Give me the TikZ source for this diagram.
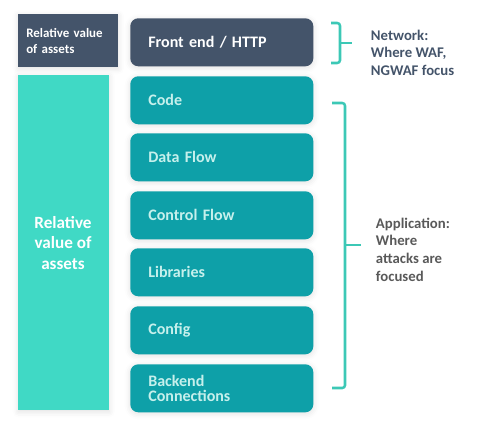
\documentclass[tikz,border=0pt]{standalone}
\usepackage{fontspec}
\setmainfont{Carlito}
\usetikzlibrary{shadows.blur}
\definecolor{slate}{HTML}{44546A}
\definecolor{deepteal}{HTML}{0EA0A8}
\definecolor{lightteal}{HTML}{40D9C5}
\definecolor{paleteal}{HTML}{C6F0EC}
\definecolor{bracecol}{HTML}{3CC8B6}
\definecolor{greytext}{HTML}{595959}
\tikzset{
  glow/.style={blur shadow={shadow xshift=0pt, shadow yshift=-1pt, shadow blur radius=4pt, shadow opacity=12}},
  layerbox/.style={glow, rounded corners=0.2cm, minimum width=4.575cm, minimum height=1.2cm,
    text width=3.675cm, inner xsep=0.45cm, inner ysep=0pt, align=left, anchor=north west,
    font=\bfseries\fontsize{11.4}{10.6}\selectfont},
  applayer/.style={layerbox, fill=deepteal, text=paleteal},
  brace/.style={draw=bracecol, line width=1.8pt, rounded corners=2pt},
  sidetext/.style={anchor=north west, align=left, font=\bfseries\fontsize{10.5}{12.5}\selectfont}
}
\begin{document}
\begin{tikzpicture}[x=0.025cm, y=-0.025cm]
  \useasboundingbox (0,0) rectangle (490,434);

  %%%%% left column %%%%%
  \node[glow, fill=slate, text=white, anchor=north west, minimum width=2.275cm, minimum height=1.325cm,
    text width=2.1cm, inner xsep=0.2cm, align=left, font=\bfseries\fontsize{9.2}{11}\selectfont]
    (valuetop) at (18,14) {Relative value\\of assets};
  \node[glow, fill=lightteal, anchor=north west, minimum width=2.275cm, minimum height=8.375cm] (valuebar) at (18,75) {};
  \node[text=white, align=center, font=\bfseries\fontsize{12.2}{14.3}\selectfont] (valuelabel) at (63,243) {Relative\\value of\\assets};

  %%%%% layers %%%%%
  \node[layerbox, fill=slate, text=white] (http) at (130,18) {Front end / HTTP};
  \node[applayer] (code) at (130,76) {Code};
  \node[applayer] (dataflow) at (130,133) {Data Flow};
  \node[applayer] (ctrlflow) at (130,191) {Control Flow};
  \node[applayer] (libs) at (130,248) {Libraries};
  \node[applayer] (config) at (130,306) {Config};
  \node[applayer] (backend) at (130,364) {Backend\\Connections};

  %%%%% braces %%%%%
  \coordinate (nettop) at (331,23);
  \coordinate (netbot) at (331,63);
  \draw[brace] (nettop) -- (340,23) -- (340,63) -- (netbot);
  \draw[brace, rounded corners=0pt] (340,43) -- (352,43);

  \coordinate (apptop) at (332,103);
  \coordinate (appbot) at (332,388);
  \draw[brace] (apptop) -- (345,103) -- (345,388) -- (appbot);
  \draw[brace, rounded corners=0pt] (345,245) -- (361,245);

  \node[sidetext, text=slate] (nettext) at (366,25) {Network:\\Where WAF,\\NGWAF focus};
  \node[sidetext, text=greytext] (apptext) at (371,213) {Application:\\Where\\attacks are\\focused};
\end{tikzpicture}
\end{document}
